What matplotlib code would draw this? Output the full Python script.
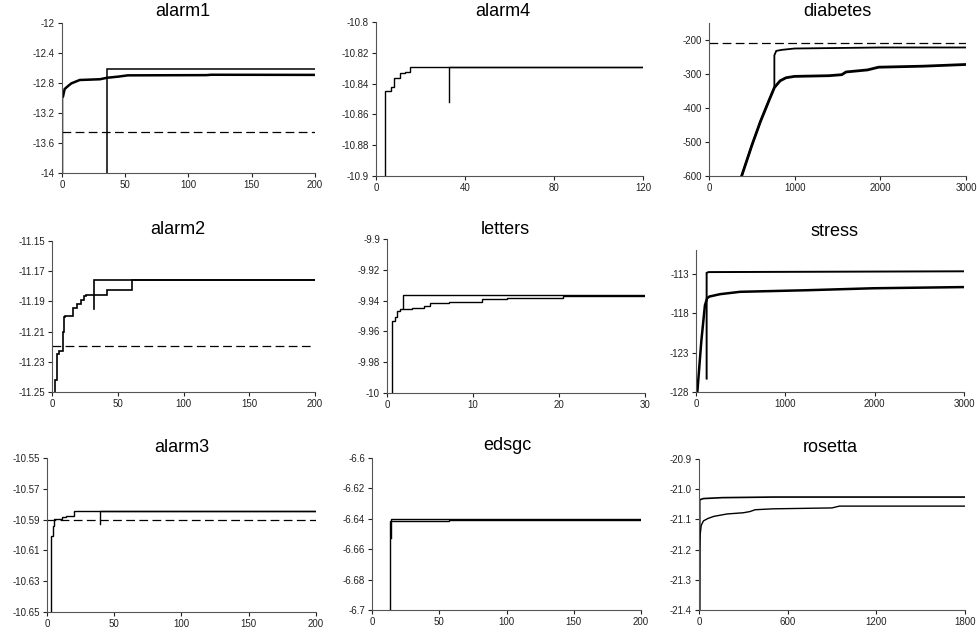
import numpy as np
import matplotlib
matplotlib.use("Agg")
import matplotlib.pyplot as plt
from matplotlib.ticker import FuncFormatter

plt.rcParams['font.family'] = ['Liberation Sans', 'DejaVu Sans']

W, H = 978, 635

# ---- data ----
# alarm1
alarm1_x1 = [35.7, 35.7, 200]
alarm1_y1 = [-14.5, -12.619, -12.619]
alarm1_x2 = [0, 0, 0.8, 2.1, 4.8, 7.4, 14, 30, 35.7, 44.5, 52, 114, 118, 200]
alarm1_y2 = [-14.5, -13.0, -12.98, -12.88, -12.84, -12.805, -12.76, -12.75, -12.73, -12.715, -12.698, -12.695, -12.69, -12.692]
alarm1_ref = -13.447

# alarm4
alarm4_x1 = [3.9, 3.9, 6.9, 8.2, 10.9, 12.9, 15.1, 120]
alarm4_y1 = [-10.95, -10.8448, -10.842, -10.8366, -10.8333, -10.8323, -10.829, -10.829]
alarm4_x2 = [33, 33, 120]
alarm4_y2 = [-10.852, -10.829, -10.829]

# diabetes
diabetes_x1 = [340, 381, 500, 600, 700, 763, 763, 785, 850, 1000, 2000, 3000]
diabetes_y1 = [-630, -600, -510, -440, -378, -340, -245, -232, -229, -225, -222, -222]
diabetes_x2 = [340, 381, 500, 600, 700, 763, 830, 900, 1000, 1400, 1550, 1600, 1850, 1980, 2500, 3000]
diabetes_y2 = [-630, -600, -510, -440, -378, -340, -320, -311, -307, -305, -302, -294, -288, -280, -277, -272]
diabetes_ref = -209

# alarm2
alarm2_x1 = [2.0, 2.0, 3.6, 5.5, 8.6, 9.4, 10.2, 16, 19, 22, 24.3, 26, 42, 61, 200]
alarm2_y1 = [-11.26, -11.2423, -11.2247, -11.223, -11.21, -11.2, -11.1998, -11.1947, -11.1918,
             -11.189, -11.1867, -11.1856, -11.1823, -11.1755, -11.1755]
alarm2_x2 = [32, 32, 200]
alarm2_y2 = [-11.195, -11.1755, -11.1755]
alarm2_ref = -11.2195

# letters
letters_x1 = [1.86, 1.86, 30]
letters_y1 = [-9.9448, -9.9366, -9.9366]
letters_x2 = [0.58, 0.58, 0.97, 1.15, 1.55, 2.9, 4.3, 5.0, 7.2, 11.0, 14, 20.5, 30]
letters_y2 = [-10.05, -9.953, -9.9508, -9.9465, -9.9453, -9.9446, -9.9435, -9.9418, -9.941,
              -9.9389, -9.9381, -9.9372, -9.937]

# stress
stress_x1 = [119, 119, 140, 3000]
stress_y1 = [-126.3, -112.9, -112.8, -112.7]
stress_x2 = [10, 15, 60, 100, 125, 150, 269, 493, 1239, 1985, 3000]
stress_y2 = [-129, -128, -121.5, -117.0, -116.1, -115.9, -115.6, -115.3, -115.1, -114.85, -114.7]

# alarm3
alarm3_x1 = [3.3, 3.3, 4.5, 5, 11.5, 14, 20, 200]
alarm3_y1 = [-10.66, -10.6008, -10.5944, -10.5894, -10.5886, -10.5876, -10.5844, -10.5844]
alarm3_x2 = [39.3, 39.3, 200]
alarm3_y2 = [-10.5931, -10.5844, -10.5844]
alarm3_ref = -10.5905

# edsgc
edsgc_x1 = [13.7, 13.7, 57, 200]
edsgc_y1 = [-6.75, -6.6415, -6.6405, -6.6405]
edsgc_x2 = [14.4, 14.4, 200]
edsgc_y2 = [-6.6525, -6.6403, -6.6403]

# rosetta
rosetta_x1 = [5, 5, 30, 155, 503, 1800]
rosetta_y1 = [-21.45, -21.035, -21.031, -21.028, -21.026, -21.026]
rosetta_x2 = [3, 5, 8, 15, 30, 60, 100, 190, 300, 345, 380, 500, 900, 950, 1800]
rosetta_y2 = [-21.4, -21.2, -21.15, -21.12, -21.105, -21.097, -21.09, -21.082, -21.078,
              -21.074, -21.068, -21.065, -21.062, -21.056, -21.056]

titles = ["alarm1", "alarm4", "diabetes", "alarm2", "letters", "stress", "alarm3", "edsgc", "rosetta"]

# ---- layout (pixel boxes: left, right, top, bottom) ----
boxes = [(62, 315, 23, 173), (376, 643, 22, 176), (709, 966, 23, 176),
         (52, 315, 241, 392), (387, 645, 239, 393), (696, 964, 250, 392),
         (47, 316, 458, 612), (372, 641, 458, 610), (699, 965, 459, 610)]
title_pos = [(183, 12), (503, 12), (837, 12),
             (178, 230), (505, 229), (835, 231),
             (182, 448), (507, 446), (830, 447)]

panels = [
    dict(lines=[(alarm1_x1, alarm1_y1, 1.1, 'default'), (alarm1_x2, alarm1_y2, 1.8, 'default')],
         ref=alarm1_ref, xlim=(0, 200), xt=np.arange(0, 201, 50),
         ylim=(-14, -12), yt=[-14, -13.6, -13.2, -12.8, -12.4, -12], fmt='{:g}'),
    dict(lines=[(alarm4_x1, alarm4_y1, 1.0, 'steps-post'), (alarm4_x2, alarm4_y2, 1.0, 'default')],
         ref=None, xlim=(0, 120), xt=np.arange(0, 121, 40),
         ylim=(-10.9, -10.8), yt=[-10.9, -10.88, -10.86, -10.84, -10.82, -10.8], fmt='{:g}'),
    dict(lines=[(diabetes_x1, diabetes_y1, 1.3, 'default'), (diabetes_x2, diabetes_y2, 2.0, 'default')],
         ref=diabetes_ref, xlim=(0, 3000), xt=np.arange(0, 3001, 1000),
         ylim=(-600, -150), yt=[-600, -500, -400, -300, -200], fmt='{:g}'),
    dict(lines=[(alarm2_x1, alarm2_y1, 1.2, 'steps-post'), (alarm2_x2, alarm2_y2, 1.2, 'default')],
         ref=alarm2_ref, xlim=(0, 200), xt=np.arange(0, 201, 50),
         ylim=(-11.25, -11.15), yt=[-11.25, -11.23, -11.21, -11.19, -11.17, -11.15], fmt='{:g}'),
    dict(lines=[(letters_x1, letters_y1, 1.0, 'default'), (letters_x2, letters_y2, 1.0, 'steps-post')],
         ref=None, xlim=(0, 30), xt=np.arange(0, 31, 10),
         ylim=(-10, -9.9), yt=[-10, -9.98, -9.96, -9.94, -9.92, -9.9], fmt='{:g}'),
    dict(lines=[(stress_x1, stress_y1, 1.4, 'default'), (stress_x2, stress_y2, 1.8, 'default')],
         ref=None, xlim=(0, 3000), xt=np.arange(0, 3001, 1000),
         ylim=(-128, -110), yt=[-128, -123, -118, -113], fmt='{:g}'),
    dict(lines=[(alarm3_x1, alarm3_y1, 1.0, 'steps-post'), (alarm3_x2, alarm3_y2, 1.0, 'default')],
         ref=alarm3_ref, xlim=(0, 200), xt=np.arange(0, 201, 50),
         ylim=(-10.65, -10.55), yt=[-10.65, -10.63, -10.61, -10.59, -10.57, -10.55], fmt='{:g}'),
    dict(lines=[(edsgc_x1, edsgc_y1, 1.0, 'steps-post'), (edsgc_x2, edsgc_y2, 1.0, 'default')],
         ref=None, xlim=(0, 200), xt=np.arange(0, 201, 50),
         ylim=(-6.7, -6.6), yt=[-6.7, -6.68, -6.66, -6.64, -6.62, -6.6], fmt='{:g}'),
    dict(lines=[(rosetta_x1, rosetta_y1, 1.2, 'default'), (rosetta_x2, rosetta_y2, 1.0, 'default')],
         ref=None, xlim=(0, 1800), xt=np.arange(0, 1801, 600),
         ylim=(-21.4, -20.9), yt=[-21.4, -21.3, -21.2, -21.1, -21.0, -20.9], fmt='{:.1f}'),
]

fig = plt.figure(figsize=(W / 100, H / 100), dpi=100)

for i, p in enumerate(panels):
    l, r, t, b = boxes[i]
    ax = fig.add_axes([l / W, 1 - b / H, (r - l) / W, (b - t) / H])
    for xs, ys, lw, ds in p['lines']:
        ax.plot(xs, ys, color='black', lw=lw, drawstyle=ds, solid_joinstyle='miter')
    if p['ref'] is not None:
        ax.axhline(p['ref'], color='black', lw=0.9, dashes=(7, 3.5))
    ax.set_xlim(*p['xlim'])
    ax.set_ylim(*p['ylim'])
    ax.set_xticks(p['xt'])
    ax.set_yticks(p['yt'])
    fmt = p['fmt']
    ax.yaxis.set_major_formatter(FuncFormatter(lambda v, pos, f=fmt: f.format(v)))
    for s in ['top', 'right']:
        ax.spines[s].set_visible(False)
    ax.spines['left'].set_color('#555555')
    ax.spines['bottom'].set_color('#555555')
    ax.tick_params(direction='out', length=3, width=0.8, labelsize=7, colors='#222222', pad=2)
    tx, ty = title_pos[i]
    fig.text(tx / W, 1 - ty / H, titles[i], ha='center', va='center', fontsize=13)

fig.savefig("out.png", dpi=100)
